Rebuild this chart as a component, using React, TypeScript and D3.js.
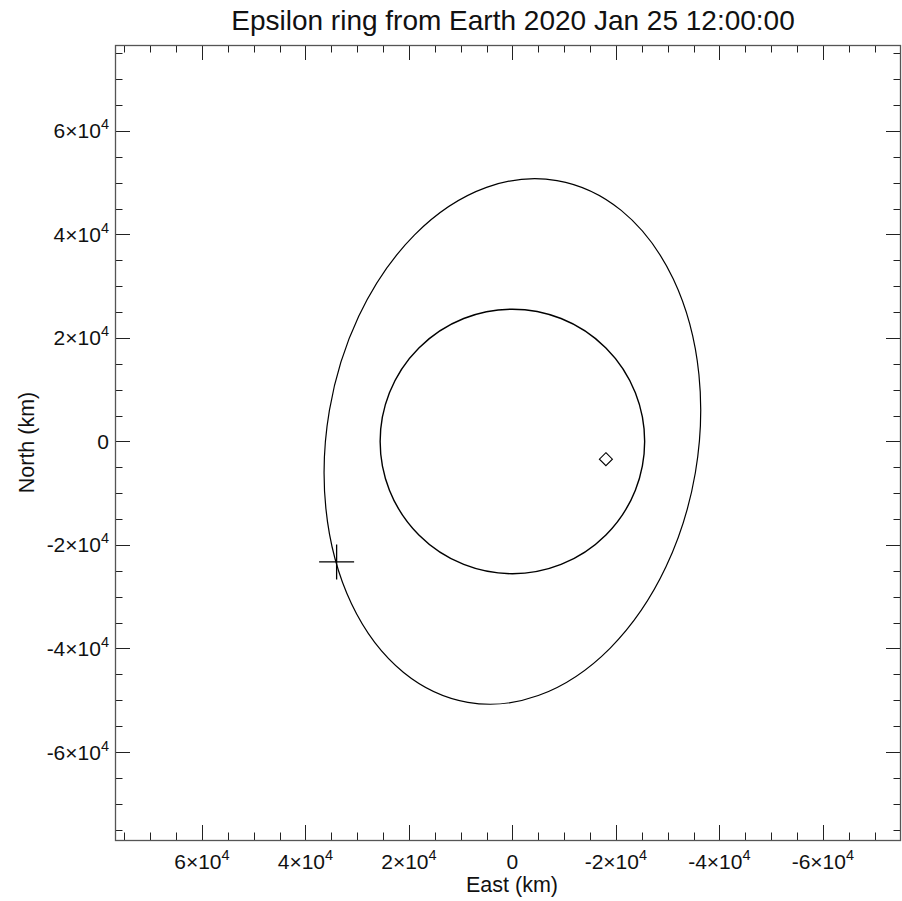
import React, { useRef, useEffect } from 'react';
import * as d3 from 'd3';

// axis extents in km (east increases to the left)
const xDomain = [76800, -75100];
const yDomain = [76600, -77000];
const majorTicks = [-60000, -40000, -20000, 0, 20000, 40000, 60000];
const tickLabels = ['-6', '-4', '-2', '0', '2', '4', '6'];

// Uranus disk, epsilon ring projection, and markers (km)
const planetRadius = 25559;
const ringSemiMajor = 51149;
const ringSemiMinor = 35870;
const ringTiltDeg = 9.7;
const plusMarker = { east: 33970, north: -23270 };
const diamondMarker = { east: -18070, north: -3420 };

const W = 902, H = 901;
const m = { l: 115, r: 1, t: 45, b: 61 };

export default function App() {
  const ref = useRef<SVGSVGElement>(null);
  useEffect(() => draw(ref.current), []);
  return (
    <div style={{ position: 'absolute', left: 0, top: 0 }}>
      <svg ref={ref} width={W} height={H} style={{ display: 'block', background: '#fff' }}></svg>
    </div>
  );
}

function draw(node: SVGSVGElement | null) {
  if (!node) return;
  const svg = d3.select(node);
  svg.selectAll('*').remove();
  const font = 'Liberation Sans, Arial, sans-serif';

  const x = d3.scaleLinear().domain(xDomain).range([m.l, W - m.r]);
  const y = d3.scaleLinear().domain(yDomain).range([m.t, H - m.b]);
  const x0 = m.l, x1 = W - m.r, y0 = m.t, y1 = H - m.b;

  const minorX = d3.range(-75000, 75001, 5000).filter(v => v % 20000 !== 0);
  const minorY = minorX;

  const g = svg.append('g');

  // ticks on all four sides, pointing inward
  const tickColor = '#222';
  const allX = [...majorTicks.map(v => ({ v, len: 15 })), ...minorX.map(v => ({ v, len: 7.5 }))];
  const allY = [...majorTicks.map(v => ({ v, len: 15 })), ...minorY.map(v => ({ v, len: 7.5 }))];
  allX.forEach(t => {
    const px = Math.round(x(t.v)) + 0.5;
    g.append('line').attr('x1', px).attr('x2', px).attr('y1', y1).attr('y2', y1 - t.len).attr('stroke', tickColor);
    g.append('line').attr('x1', px).attr('x2', px).attr('y1', y0).attr('y2', y0 + t.len).attr('stroke', tickColor);
  });
  allY.forEach(t => {
    const py = Math.round(y(t.v)) + 0.5;
    g.append('line').attr('x1', x0).attr('x2', x0 + t.len).attr('y1', py).attr('y2', py).attr('stroke', tickColor);
    g.append('line').attr('x1', x1).attr('x2', x1 - t.len).attr('y1', py).attr('y2', py).attr('stroke', tickColor);
  });

  g.append('rect')
    .attr('x', x0 + 0.5).attr('y', y0 + 0.5)
    .attr('width', x1 - x0 - 1).attr('height', y1 - y0)
    .attr('fill', 'none').attr('stroke', '#555').attr('stroke-width', 1.3);

  // tick labels
  const label = (sel: any, i: number) => {
    const v = majorTicks[i];
    if (v === 0) { sel.text('0'); return; }
    sel.append('tspan').text(tickLabels[i] + '\u00d710');
    sel.append('tspan').attr('dy', -9).attr('font-size', 14.5).text('4');
  };
  majorTicks.forEach((v, i) => {
    const t = g.append('text')
      .attr('x', x(v)).attr('y', y1 + 29)
      .attr('text-anchor', 'middle')
      .attr('font-family', font).attr('font-size', 21).attr('fill', '#111');
    label(t, i);
    const s = g.append('text')
      .attr('x', x0 - 6).attr('y', y(v) + 7.5)
      .attr('text-anchor', 'end')
      .attr('font-family', font).attr('font-size', 21).attr('fill', '#111');
    label(s, i);
  });

  // axis titles
  g.append('text').attr('x', (x0 + x1) / 2 + 4).attr('y', y1 + 52)
    .attr('text-anchor', 'middle').attr('font-family', font).attr('font-size', 21.5).attr('fill', '#111')
    .text('East (km)');
  g.append('text').attr('transform', `translate(34,${(y0 + y1) / 2}) rotate(-90)`)
    .attr('text-anchor', 'middle').attr('font-family', font).attr('font-size', 21.5).attr('fill', '#111')
    .text('North (km)');
  g.append('text').attr('x', (x0 + x1) / 2 + 5).attr('y', 30)
    .attr('text-anchor', 'middle').attr('font-family', font).attr('font-size', 28).attr('fill', '#111')
    .text('Epsilon ring from Earth 2020 Jan 25 12:00:00');

  const cx = x(0), cy = y(0);
  const kx = Math.abs(x(1000) - x(0)) / 1000;

  // planet disk
  g.append('circle').attr('cx', cx).attr('cy', cy).attr('r', planetRadius * kx)
    .attr('fill', 'none').attr('stroke', '#000').attr('stroke-width', 1.4);

  // ring ellipse
  g.append('ellipse')
    .attr('transform', `translate(${cx},${cy}) rotate(${ringTiltDeg})`)
    .attr('rx', ringSemiMinor * kx).attr('ry', ringSemiMajor * kx)
    .attr('fill', 'none').attr('stroke', '#000').attr('stroke-width', 1.2);

  // plus marker
  const px = x(plusMarker.east), py = y(plusMarker.north);
  g.append('path').attr('d', `M${px - 17.5},${py}H${px + 17.5}M${px},${py - 17.5}V${py + 17.5}`)
    .attr('stroke', '#000').attr('stroke-width', 1.3);

  // diamond marker
  const dx = x(diamondMarker.east), dy = y(diamondMarker.north), r = 6.5;
  g.append('path').attr('d', `M${dx},${dy - r}L${dx + r},${dy}L${dx},${dy + r}L${dx - r},${dy}Z`)
    .attr('fill', 'none').attr('stroke', '#000').attr('stroke-width', 1.1);
}
